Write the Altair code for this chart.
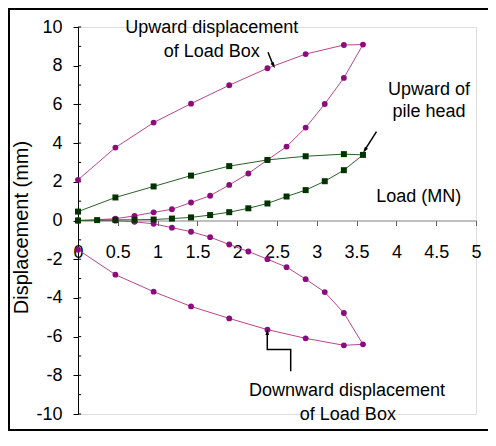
import altair as alt
import pandas as pd

# ---- data ----
load_x = [0, 0.47, 0.71, 0.95, 1.18, 1.42, 1.66, 1.90, 2.14, 2.38, 2.62, 2.86, 3.10, 3.34, 3.58]
unload_x = [3.34, 2.86, 2.38, 1.90, 1.42, 0.95, 0.47, 0]

box_up_load = [0, 0.09, 0.24, 0.42, 0.58, 0.93, 1.28, 1.84, 2.43, 3.13, 3.82, 4.80, 6.02, 7.37, 9.09]
box_up_unload = [9.07, 8.60, 7.87, 6.99, 6.04, 5.06, 3.77, 2.10]

pile_load_x = [0, 0.24, 0.47, 0.71, 0.95, 1.18, 1.42, 1.66, 1.90, 2.14, 2.38, 2.62, 2.86, 3.10, 3.34, 3.58]
pile_load = [0, 0.02, 0.03, 0.04, 0.05, 0.10, 0.16, 0.28, 0.43, 0.63, 0.88, 1.24, 1.57, 2.03, 2.60, 3.39]
pile_unload = [3.43, 3.32, 3.13, 2.81, 2.32, 1.76, 1.19, 0.46]

box_dn_load = [0, -0.01, -0.07, -0.17, -0.37, -0.58, -0.86, -1.24, -1.60, -2.00, -2.41, -3.03, -3.70, -4.78, -6.40]
box_dn_unload = [-6.45, -6.09, -5.64, -5.06, -4.44, -3.68, -2.80, -1.51]

x_ticks = [0, 0.5, 1, 1.5, 2, 2.5, 3, 3.5, 4, 4.5, 5]
y_ticks = [-10, -8, -6, -4, -2, 0, 2, 4, 6, 8, 10]
minor_y = [v for v in range(-10, 11) if v != 0]

FONT = "Liberation Sans"
MAG_PT, MAG_LN = "#8C0C7E", "#B8468C"
GRN_PT, GRN_LN = "#003300", "#2B5F2B"


def series(name, xs, ys, start=0):
    return [{"s": name, "seq": start + i, "x": a, "y": b} for i, (a, b) in enumerate(zip(xs, ys))]


rows = []
rows += series("boxup", load_x, box_up_load)
rows += series("boxup", unload_x, box_up_unload, 100)
rows += series("boxdn", load_x, box_dn_load)
rows += series("boxdn", unload_x, box_dn_unload, 100)
rows += series("pile", pile_load_x, pile_load)
rows += series("pile", unload_x, pile_unload, 100)
df = pd.DataFrame(rows)
mag = df[df.s != "pile"]
grn = df[df.s == "pile"]

# annotations (data units)
arrows = pd.DataFrame([
    {"id": "a", "o": 0, "x": 2.387, "y": 8.70},
    {"id": "a", "o": 1, "x": 2.45, "y": 8.05},
    {"id": "b", "o": 0, "x": 3.75, "y": 4.59},
    {"id": "b", "o": 1, "x": 3.60, "y": 3.62},
    {"id": "c", "o": 0, "x": 2.672, "y": -7.79},
    {"id": "c", "o": 1, "x": 2.672, "y": -6.67},
    {"id": "c", "o": 2, "x": 2.378, "y": -6.67},
    {"id": "c", "o": 3, "x": 2.378, "y": -5.85},
])
heads = pd.DataFrame([
    {"x": 2.455, "y": 8.02, "ang": 153},
    {"x": 3.605, "y": 3.64, "ang": 214},
    {"x": 2.378, "y": -5.78, "ang": 0},
])
labels = pd.DataFrame([
    {"x": 1.68, "y": 9.97, "t": "Upward displacement"},
    {"x": 1.68, "y": 8.70, "t": "of Load Box"},
    {"x": 4.41, "y": 6.75, "t": "Upward of"},
    {"x": 4.41, "y": 5.62, "t": "pile head"},
    {"x": 4.28, "y": 1.22, "t": "Load (MN)"},
    {"x": 3.38, "y": -8.83, "t": "Downward displacement"},
    {"x": 3.39, "y": -10.07, "t": "of Load Box"},
])

xs = alt.Scale(domain=[0, 5], nice=False, zero=False)
ys = alt.Scale(domain=[-10, 10], nice=False, zero=False)

x_axis = alt.Axis(
    values=x_ticks, labelExpr="'' + datum.value", title=None, grid=False,
    offset=-193.5, domainColor="#808080", tickColor="#606060", tickSize=5,
    labelPadding=18, labelFontSize=18, labelFont=FONT, labelColor="black",
    labelBaseline="top", labelFlush=False, labelOverlap=False)
y_axis = alt.Axis(
    values=y_ticks, labelExpr="'' + datum.value", title="Displacement (mm)", grid=False,
    domainColor="black", tickColor="black", tickSize=5, labelPadding=11,
    labelFontSize=18, labelFont=FONT, labelColor="black", labelFlush=False,
    labelOverlap=False, titleFont=FONT, titleFontSize=20, titleFontWeight="normal",
    titleColor="black", titleAngle=270, titleX=-57, titleY=200,
    titleAlign="center", titleBaseline="middle")
X = alt.X("x:Q", scale=xs, axis=x_axis)
Y = alt.Y("y:Q", scale=ys, axis=y_axis)

frame = alt.Chart(pd.DataFrame({"k": [0]})).mark_rect(
    filled=False, stroke="black", strokeWidth=2).encode(
    x=alt.value(-69), x2=alt.value(700), y=alt.value(-18), y2=alt.value(403))

minor = alt.Chart(pd.DataFrame({"y": minor_y, "x": 0, "x2": 0.04})).mark_rule(
    color="black", strokeWidth=1).encode(x=X, x2="x2:Q", y=Y)

mag_line = alt.Chart(mag).mark_line(color=MAG_LN, strokeWidth=1).encode(
    x=X, y=Y, detail="s:N", order="seq:Q")
mag_pts = alt.Chart(mag).mark_point(
    shape="circle", filled=True, color=MAG_PT, size=34, opacity=1).encode(x=X, y=Y)
grn_line = alt.Chart(grn).mark_line(color=GRN_LN, strokeWidth=1).encode(
    x=X, y=Y, order="seq:Q")
grn_pts = alt.Chart(grn).mark_point(
    shape="square", filled=True, color=GRN_PT, size=36, opacity=1).encode(x=X, y=Y)

arrow_lines = alt.Chart(arrows).mark_line(color="black", strokeWidth=1.5).encode(
    x=X, y=Y, detail="id:N", order="o:Q")
arrow_heads = alt.Chart(heads).mark_point(
    shape="M0,-1L-0.55,0.8L0.55,0.8Z", filled=True, color="black", size=45, opacity=1).encode(
    x=X, y=Y, angle=alt.Angle("ang:Q", scale=None))

texts = alt.Chart(labels).mark_text(
    font=FONT, fontSize=18, color="black", align="center", baseline="middle").encode(
    x=X, y=Y, text="t:N")

chart = alt.layer(
    frame, minor, mag_line, grn_line, mag_pts, grn_pts, arrow_lines, arrow_heads, texts
).properties(
    width=398, height=387,
    padding={"left": 70, "top": 19, "right": 12, "bottom": 18},
    autosize=alt.AutoSizeParams(type="none"),
).configure_view(stroke=None).configure(background="white")

chart.save("out.html", embed_options={"renderer": "svg", "actions": False})
